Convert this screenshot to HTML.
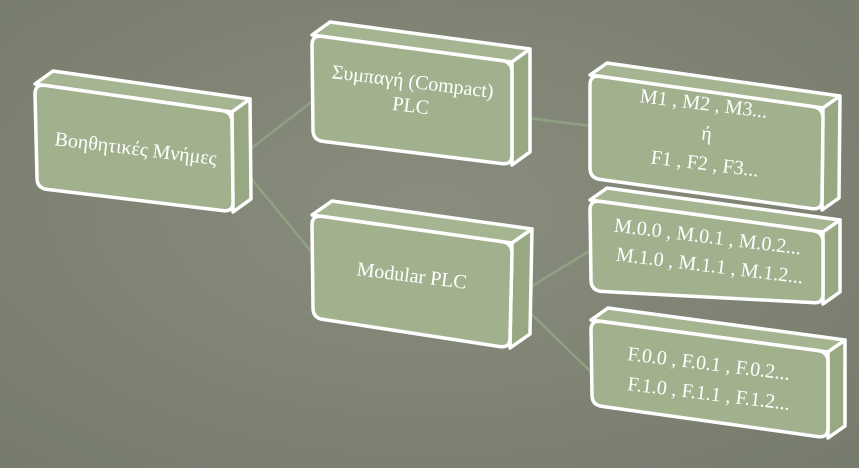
<!DOCTYPE html>
<html><head><meta charset="utf-8"><style>
html,body{margin:0;padding:0;background:#7f8474;}
svg{display:block}
text{font-family:"Liberation Serif","DejaVu Serif",serif;fill:#fff;}
</style></head><body>
<svg width="859" height="468" viewBox="0 0 859 468" xmlns="http://www.w3.org/2000/svg">
<defs>
<radialGradient id="bg" cx="0.5" cy="0.45" r="0.75">
<stop offset="0" stop-color="#898d7e"/><stop offset="1" stop-color="#767b6c"/>
</radialGradient>
</defs>
<rect width="859" height="468" fill="url(#bg)"/>
<g stroke="#93a883" stroke-width="2.5" fill="none" opacity="0.8">
<line x1="236" y1="160" x2="314" y2="100"/>
<line x1="236" y1="160" x2="314" y2="255"/>
<line x1="512" y1="116" x2="591" y2="126"/>
<line x1="514" y1="297" x2="591" y2="250"/>
<line x1="514" y1="297" x2="591" y2="372"/>
</g>
<g id="boxes" stroke="#fff" stroke-width="3.5" stroke-linejoin="round" fill="#a2b18d"></g>
<g font-size="20">
<text transform="translate(135,155) rotate(7)" text-anchor="middle">Βοηθητικές Μνήμες</text>
<text transform="translate(412,88) rotate(7)" text-anchor="middle">Συμπαγή (Compact)</text>
<text transform="translate(410,112) rotate(7)" text-anchor="middle">PLC</text>
<text transform="translate(411,282) rotate(7)" text-anchor="middle">Modular PLC</text>
<text transform="translate(703,110) rotate(7)" text-anchor="middle">M1 , M2 , M3...</text>
<text transform="translate(706,140) rotate(7)" text-anchor="middle">ή</text>
<text transform="translate(704,170) rotate(7)" text-anchor="middle">F1 , F2 , F3...</text>
<text transform="translate(707,243) rotate(7)" text-anchor="middle">M.0.0 , M.0.1 , M.0.2...</text>
<text transform="translate(709,272) rotate(7)" text-anchor="middle">M.1.0 , M.1.1 , M.1.2...</text>
<text transform="translate(708,370) rotate(7)" text-anchor="middle">F.0.0 , F.0.1 , F.0.2...</text>
<text transform="translate(708,400) rotate(7)" text-anchor="middle">F.1.0 , F.1.1 , F.1.2...</text>
</g>
<script>
var boxes=[
 [[35,84],[232,112],[233,212],[37,188],[18,-13]],
 [[312,35],[512,62],[512,165],[313,140],[18,-13]],
 [[312,215],[512,243],[510,348],[313,318],[20,-14]],
 [[590,75],[823,108],[822,210],[590,178],[17,-12]],
 [[590,200],[823,232],[823,304],[591,290],[17,-12]],
 [[591,320],[828,352],[828,438],[592,405],[17,-12]]
];
var g=document.getElementById('boxes');
var ns='http://www.w3.org/2000/svg';
function poly(pts,fill){var p=document.createElementNS(ns,'polygon');p.setAttribute('points',pts.map(function(a){return a.join(',')}).join(' '));if(fill)p.setAttribute('fill',fill);g.appendChild(p);}
boxes.forEach(function(b){
 var tl=b[0],tr=b[1],br=b[2],bl=b[3],d=b[4];
 function o(p){return [p[0]+d[0],p[1]+d[1]];}
 poly([tl,o(tl),o(tr),tr],'#a6b591');
 poly([tr,o(tr),o(br),br],'#98a883');
 var p=document.createElementNS(ns,'path');
 var r=10;
 p.setAttribute('d','M'+(tl[0])+','+(tl[1]+r)+' Q'+tl[0]+','+tl[1]+' '+(tl[0]+r)+','+(tl[1]+1.4)+
  ' L'+(tr[0]-r)+','+(tr[1]-1.4)+' Q'+tr[0]+','+tr[1]+' '+tr[0]+','+(tr[1]+r)+
  ' L'+br[0]+','+(br[1]-r)+' Q'+br[0]+','+br[1]+' '+(br[0]-r)+','+(br[1]-1.4)+
  ' L'+(bl[0]+r)+','+(bl[1]+1.4)+' Q'+bl[0]+','+bl[1]+' '+bl[0]+','+(bl[1]-r)+' Z');
 g.appendChild(p);
});
</script>
</svg>
</body></html>
